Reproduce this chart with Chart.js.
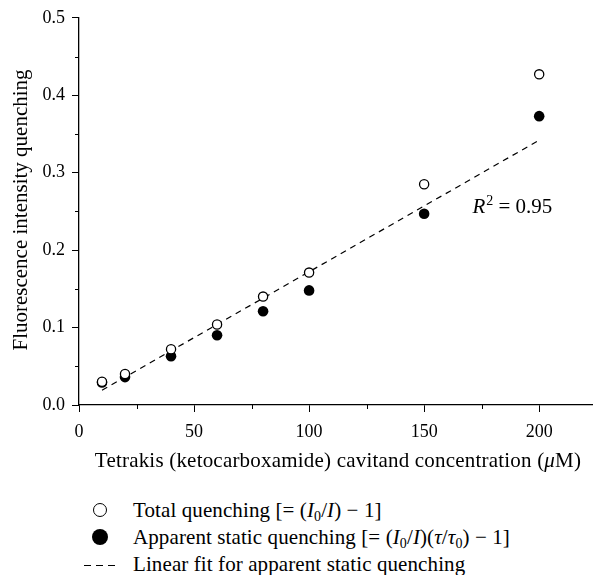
<!DOCTYPE html>
<html>
<head>
<meta charset="utf-8">
<script src="https://cdn.jsdelivr.net/npm/chart.js@4/dist/chart.umd.min.js"></script>
<style>
  html, body { margin: 0; padding: 0; background: #fff; }
  body { width: 598px; height: 575px; position: relative; overflow: hidden; font-family: "Liberation Serif", "DejaVu Serif", serif; color: #000; }
  #wrap { position: absolute; left: 0; top: 0; width: 598px; height: 490px; }
  #legend { position: absolute; left: 0; top: 497px; font-size: 21px; letter-spacing: 0.1px; }
  .row { position: relative; height: 27px; line-height: 27px; white-space: nowrap; }
  .mk { position: absolute; left: 80px; top: 0; width: 40px; height: 27px; }
  .txt { position: absolute; left: 133px; top: 0; }
  .open { position: absolute; left: 13px; top: 6px; width: 14px; height: 14px; border: 1.5px solid #000; border-radius: 50%; box-sizing: border-box; }
  .fill { position: absolute; left: 12px; top: 5px; width: 16px; height: 16px; background: #000; border-radius: 50%; }
  .dash { position: absolute; left: 4px; top: 14px; width: 31px; height: 1.3px; background: repeating-linear-gradient(to right, #000 0 7px, transparent 7px 12px); }
  sub { font-size: 14px; vertical-align: -4px; line-height: 0; }
</style>
</head>
<body>
<div id="wrap"><canvas id="chart" width="598" height="490"></canvas></div>
<div id="legend">
  <div class="row"><span class="mk"><span class="open"></span></span><span class="txt">Total quenching [= (<i>I</i><sub>0</sub>/<i>I</i>) − 1]</span></div>
  <div class="row"><span class="mk"><span class="fill"></span></span><span class="txt">Apparent static quenching [= (<i>I</i><sub>0</sub>/<i>I</i>)(<i>τ</i>/<i>τ</i><sub>0</sub>) − 1]</span></div>
  <div class="row"><span class="mk"><span class="dash"></span></span><span class="txt">Linear fit for apparent static quenching</span></div>
</div>
<script>
// Data
const concentrations = [10, 20, 40, 60, 80, 100, 150, 200];
const totalQuenching = [0.030, 0.040, 0.072, 0.104, 0.140, 0.171, 0.285, 0.427];
const staticQuenching = [0.029, 0.036, 0.063, 0.090, 0.121, 0.148, 0.247, 0.373];
const fitX = [10, 200];
const fitY = [0.019, 0.342];

const xMajorTicks = [0, 50, 100, 150, 200];
const xMinorTicks = [25, 75, 125, 175];
const yTickLabels = ['0.0', '0.1', '0.2', '0.3', '0.4', '0.5'];
const yMinorTicks = [0.05, 0.15, 0.25, 0.35, 0.45];

const r2Text = '0.95';
const r2At = { x: 171, y: 0.248 };

const FONT = '"Liberation Serif", "DejaVu Serif", serif';

const toPoints = (xs, ys) => xs.map((x, i) => ({ x, y: ys[i] }));

// minor ticks, axis titles and the R² note
const extras = {
  id: 'extras',
  afterDraw(chart) {
    const { ctx, scales: { x, y }, chartArea } = chart;
    ctx.save();
    ctx.strokeStyle = '#000';
    ctx.lineWidth = 1;
    ctx.beginPath();
    xMinorTicks.forEach(v => {
      const px = Math.round(x.getPixelForValue(v)) + 0.5;
      ctx.moveTo(px, chartArea.bottom);
      ctx.lineTo(px, chartArea.bottom + 4);
    });
    yMinorTicks.forEach(v => {
      const py = Math.round(y.getPixelForValue(v)) + 0.5;
      ctx.moveTo(chartArea.left, py);
      ctx.lineTo(chartArea.left - 4, py);
    });
    ctx.stroke();

    ctx.fillStyle = '#000';
    // y title
    ctx.save();
    ctx.translate(21, 210);
    ctx.rotate(-Math.PI / 2);
    ctx.font = '21px ' + FONT;
    ctx.textAlign = 'center';
    ctx.textBaseline = 'middle';
    ctx.fillText('Fluorescence intensity quenching', 0, 0);
    ctx.restore();

    // x title with italic mu
    const parts = [
      ['Tetrakis (ketocarboxamide) cavitand concentration (', ''],
      ['μ', 'italic '],
      ['M)', '']
    ];
    ctx.letterSpacing = '0.2px';
    let total = 0;
    parts.forEach(p => { ctx.font = p[1] + '21px ' + FONT; total += ctx.measureText(p[0]).width; });
    let cx = 338 - total / 2;
    ctx.textBaseline = 'middle';
    ctx.textAlign = 'left';
    parts.forEach(p => {
      ctx.font = p[1] + '21px ' + FONT;
      ctx.fillText(p[0], cx, 461);
      cx += ctx.measureText(p[0]).width;
    });
    ctx.letterSpacing = '0px';

    // R² = 0.95
    let rx = x.getPixelForValue(r2At.x);
    const ry = y.getPixelForValue(r2At.y);
    ctx.textBaseline = 'alphabetic';
    ctx.font = 'italic 21px ' + FONT;
    ctx.fillText('R', rx, ry);
    rx += ctx.measureText('R').width + 1;
    ctx.font = '14px ' + FONT;
    ctx.fillText('2', rx, ry - 8);
    rx += ctx.measureText('2').width;
    ctx.font = '21px ' + FONT;
    ctx.fillText(' = ' + r2Text, rx, ry);
    ctx.restore();
  }
};

new Chart(document.getElementById('chart'), {
  type: 'scatter',
  data: {
    datasets: [
      {
        label: 'Linear fit',
        type: 'line',
        data: toPoints(fitX, fitY),
        borderColor: '#000',
        borderWidth: 1.2,
        borderDash: [6, 5],
        pointRadius: 0,
        fill: false,
        order: 3
      },
      {
        label: 'Total quenching',
        data: toPoints(concentrations, totalQuenching),
        pointStyle: 'circle',
        pointRadius: 4.6,
        pointBackgroundColor: '#fff',
        pointBorderColor: '#000',
        pointBorderWidth: 1.3,
        order: 1
      },
      {
        label: 'Apparent static quenching',
        data: toPoints(concentrations, staticQuenching),
        pointStyle: 'circle',
        pointRadius: 5.3,
        pointBackgroundColor: '#000',
        pointBorderColor: '#000',
        pointBorderWidth: 0,
        order: 2
      }
    ]
  },
  options: {
    responsive: false,
    animation: false,
    events: [],
    layout: { padding: { top: 15, right: 0, left: 0, bottom: 0 } },
    plugins: { legend: { display: false }, tooltip: { enabled: false } },
    scales: {
      x: {
        type: 'linear',
        min: 0,
        max: 223,
        afterFit: s => { s.height = 85; },
        afterBuildTicks: s => { s.ticks = xMajorTicks.map(v => ({ value: v })); },
        ticks: {
          color: '#000',
          font: { family: FONT, size: 18 },
          padding: 9,
          maxRotation: 0,
          callback: v => String(v)
        },
        grid: { drawOnChartArea: false, tickLength: 7, color: '#000', tickWidth: 1 },
        border: { color: '#000', width: 1.3 }
      },
      y: {
        min: 0,
        max: 0.5,
        afterFit: s => { s.width = 79; },
        afterBuildTicks: s => { s.ticks = yTickLabels.map(t => ({ value: parseFloat(t) })); },
        ticks: {
          color: '#000',
          font: { family: FONT, size: 18 },
          padding: 7,
          callback: (v, i) => yTickLabels[i]
        },
        grid: { drawOnChartArea: false, tickLength: 7, color: '#000', tickWidth: 1 },
        border: { color: '#000', width: 1.3 }
      }
    }
  },
  plugins: [extras]
});
</script>
</body>
</html>
